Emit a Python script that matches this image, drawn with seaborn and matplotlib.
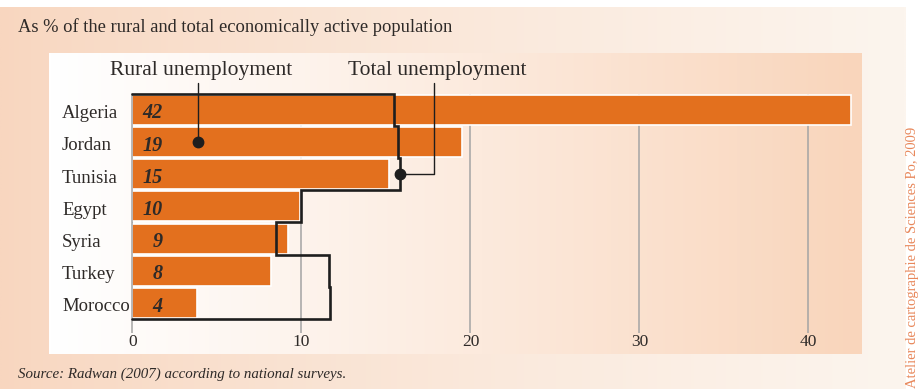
import numpy as np
import matplotlib
matplotlib.use("Agg")
import matplotlib.pyplot as plt
import matplotlib.transforms as mtransforms
from matplotlib.colors import to_rgb
import seaborn as sns

# ---- data ----
countries = ["Algeria", "Jordan", "Tunisia", "Egypt", "Syria", "Turkey", "Morocco"]
rural = [42.5, 19.5, 15.2, 9.9, 9.2, 8.2, 3.8]
rural_labels = ["42", "19", "15", "10", "9", "8", "4"]
total = [15.5, 15.7, 15.8, 10.0, 8.5, 11.6, 11.7]
xticks = [0, 10, 20, 30, 40]

title = "As % of the rural and total economically active population"
source = "Source: Radwan (2007) according to national surveys."
credit = "Atelier de cartographie de Sciences Po, 2009"

sns.set_theme(style="white")
plt.rcParams["font.family"] = ["Liberation Serif", "DejaVu Serif"]

BAR = "#e3701e"
DARK = "#1e1e1e"
TXT = "#2e2a28"
GRID = "#a4a4a4"

W, H = 920, 390
fig = plt.figure(figsize=(W / 100, H / 100), dpi=100)
fig.patch.set_facecolor("white")

# background panels
bg = fig.add_axes([0, 0, 1, 1], zorder=-10)
bg.set_xlim(0, W)
bg.set_ylim(H, 0)
bg.axis("off")


def hgrad(c1, c2, n=256, power=1.0):
    a = np.array(to_rgb(c1))
    b = np.array(to_rgb(c2))
    t = np.linspace(0, 1, n) ** power
    row = a[None, :] * (1 - t[:, None]) + b[None, :] * t[:, None]
    return np.repeat(row[None, :, :], 4, axis=0)


bg.imshow(hgrad("#f8d6bf", "#fcf5ee", power=0.8), extent=(0, 906, 389, 7),
          aspect="auto", interpolation="bilinear", zorder=0)
bg.imshow(hgrad("#ffffff", "#f9d5bb", power=1.1), extent=(49, 862, 354, 53),
          aspect="auto", interpolation="bilinear", zorder=1)
bg.set_xlim(0, W)
bg.set_ylim(H, 0)

bg.text(18, 27, title, fontsize=13.3, color=TXT, va="center", ha="left")
bg.text(18, 374, source, fontsize=10.8, color=TXT, va="center", ha="left",
        fontstyle="italic")
bg.text(913, 388, credit, fontsize=10.5, color="#e8875a", rotation=90,
        ha="center", va="bottom")
bg.text(201.5, 71, "Rural unemployment", fontsize=15.5, color=TXT,
        ha="center", va="center")
bg.text(437.5, 71, "Total unemployment", fontsize=15.5, color=TXT,
        ha="center", va="center")

# main axes
px_per_unit = 16.9
x0_px = 132.5
xmax = 42.6
top_px, bot_px = 93.6, 319.1
ax = fig.add_axes([x0_px / W, (H - bot_px) / H, xmax * px_per_unit / W,
                   (bot_px - top_px) / H])
ax.patch.set_alpha(0)

sns.barplot(x=rural, y=countries, ax=ax, orient="h", color=BAR, saturation=1,
            width=0.93, edgecolor="white", linewidth=1.2, zorder=2)

ax.set_xlim(0, xmax)
ax.set_ylim(len(countries) - 0.5, -0.5)
ax.set_xlabel("")
ax.set_ylabel("")

ax.set_axisbelow(True)
ax.set_xticks(xticks)
ax.set_xticklabels([str(v) for v in xticks])
ax.xaxis.grid(True, color=GRID, lw=1.1)
ax.yaxis.grid(False)
for s in ["top", "right", "bottom"]:
    ax.spines[s].set_visible(False)
ax.spines["left"].set_color(GRID)
ax.spines["left"].set_linewidth(1.1)
ax.tick_params(axis="x", length=10, width=1.1, color=GRID, labelsize=12.5,
               labelcolor=TXT, pad=1, bottom=True)
ax.tick_params(axis="y", length=0, labelsize=13.5, labelcolor=TXT,
               pad=(x0_px - 62) * 0.72)
shift = mtransforms.ScaledTranslation(0, -2 / 100, fig.dpi_scale_trans)
for tick in ax.yaxis.get_major_ticks():
    tick.label1.set_ha("left")
    tick.label1.set_transform(tick.label1.get_transform() + shift)

# value labels
for i, lab in enumerate(rural_labels):
    ax.text(1.8, i + 0.27, lab, ha="right", va="baseline", fontsize=14.5,
            fontstyle="italic", fontweight="bold", color=TXT, zorder=4)

# total unemployment step outline
n = len(total)
xs = [0]
ys = [-0.5]
for i, t in enumerate(total):
    xs += [t, t]
    ys += [i - 0.5, i + 0.5]
xs.append(0)
ys.append(n - 0.5)
ax.plot(xs, ys, color=DARK, lw=1.9, zorder=5, clip_on=False,
        solid_joinstyle="miter")

# leader lines
lead_top = -0.5 - (top_px - 83) / ((bot_px - top_px) / n)
rx = 3.9
ax.plot([rx, rx], [1, lead_top], color=DARK, lw=1.0, clip_on=False, zorder=6)
ax.plot([rx], [1], "o", color=DARK, ms=7.5, clip_on=False, zorder=6)
tx = (434 - x0_px) / px_per_unit
ax.plot([total[2], tx, tx], [2, 2, lead_top], color=DARK, lw=1.0,
        clip_on=False, zorder=6)
ax.plot([total[2]], [2], "o", color=DARK, ms=7.5, clip_on=False, zorder=6)

fig.savefig("out.png", dpi=100)
